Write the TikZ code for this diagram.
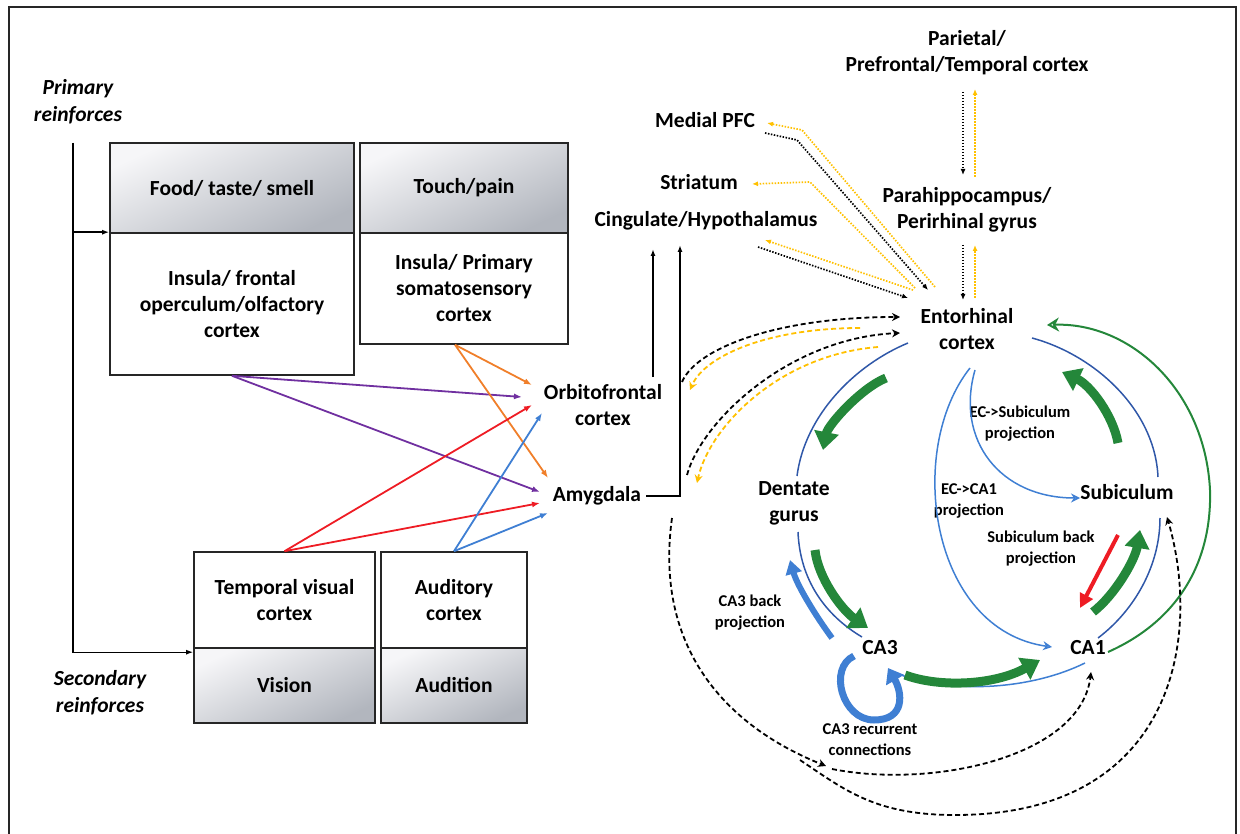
\documentclass[tikz,border=0pt]{standalone}
\usepackage{fontspec}
\setmainfont{Carlito}
\usetikzlibrary{arrows.meta,calc}
\definecolor{cPurple}{HTML}{7030A0}
\definecolor{cOrange}{HTML}{F07F2A}
\definecolor{cRed}{HTML}{EE1C24}
\definecolor{cBlue}{HTML}{3F7FD3}
\definecolor{cRing}{HTML}{2F57A8}
\definecolor{cGold}{HTML}{FFC000}
\definecolor{cGreen}{HTML}{24873A}
\definecolor{hdrLight}{HTML}{F6F6F8}
\definecolor{hdrDark}{HTML}{B2B6BE}
\begin{document}
\begin{tikzpicture}[x=1pt,y=-1pt,
  lbl/.style={font=\fontsize{21.5}{26}\selectfont\bfseries, align=center, inner sep=2pt},
  small/.style={font=\fontsize{16.5}{21}\selectfont\bfseries, align=center, inner sep=1pt},
  side/.style={font=\fontsize{21.5}{27}\selectfont\bfseries\itshape, align=center},
  box/.style={lbl, draw=black!85, line width=1.6pt, inner sep=0pt},
  hdr/.style={box, top color=hdrLight, bottom color=hdrDark, shading angle=25},
  arr/.style={line width=1.4pt, -{Latex[length=7pt,width=5pt]}},
  carr/.style={line width=1.8pt, -{Latex[length=8pt,width=6pt]}},
  dotarr/.style={line width=1.7pt, dash pattern=on 1.5pt off 1.5pt, -{Latex[length=6pt,width=5pt]}},
  dasharr/.style={line width=1.8pt, dash pattern=on 5pt off 3pt, -{Stealth[length=8pt,width=8pt]}},
  ring/.style={cRing, line width=1.5pt},
  proj/.style={cBlue, line width=1.5pt, -{Stealth[length=9pt,width=9pt,open]}},
  fat/.style={line width=9pt, -{Triangle[width=24pt,length=18pt]}},
  medfat/.style={line width=6pt, -{Triangle[width=16pt,length=14pt]}}
]
\useasboundingbox (0,0) rectangle (1240,834);
% outer frame
\draw[line width=2pt, black!85] (9,834) -- (9,7) -- (1236,7) -- (1236,834);

% ---------- sensory boxes ----------
\node[hdr, minimum width=244pt, minimum height=90pt] (food) at (232,188) {Food/ taste/ smell};
\node[box, minimum width=244pt, minimum height=142pt] (foodc) at (232,304) {Insula/ frontal\\operculum/olfactory\\cortex};
\node[hdr, minimum width=208pt, minimum height=90pt] (touch) at (464,188) {Touch/pain};
\node[box, minimum width=208pt, minimum height=111pt] (touchc) at (464,288.5) {Insula/ Primary\\somatosensory\\cortex};
\node[box, minimum width=181pt, minimum height=96pt] (tvc) at (284.5,600) {Temporal visual\\cortex};
\node[hdr, minimum width=181pt, minimum height=75pt] (vis) at (284.5,685.5) {Vision};
\node[box, minimum width=146pt, minimum height=96pt] (aud) at (454,600) {Auditory\\cortex};
\node[hdr, minimum width=146pt, minimum height=75pt] (audn) at (454,685.5) {Audition};

\node[side] (prim) at (78,102) {Primary\\reinforces};
\node[side] (sec) at (100,693) {Secondary\\reinforces};
\coordinate (rtop) at (73,143);
\draw[arr] (rtop) |- (foodc.north west);
\draw[arr] (rtop) |- ([yshift=-5pt]vis.north west);

% ---------- limbic targets ----------
\node[lbl] (ofc) at (603,405) {Orbitofrontal\\cortex};
\node[lbl] (amy) at (597,496) {Amygdala};
\node[lbl] (cing) at (706,221) {Cingulate/Hypothalamus};
\node[lbl] (str) at (699,182) {Striatum};
\node[lbl] (mpfc) at (705,120) {Medial PFC};

\draw[carr, cPurple] (foodc.south) -- ($(ofc)+(-81,-8)$);
\draw[carr, cPurple] (foodc.south) -- ($(amy)+(-57,-4)$);
\draw[carr, cOrange] ([xshift=-9pt]touchc.south) -- ($(ofc)+(-71,-20)$);
\draw[carr, cOrange] ([xshift=-9pt]touchc.south) -- ($(amy)+(-49,-18)$);
\draw[carr, cRed] (tvc.north) -- ($(ofc)+(-71,0)$);
\draw[carr, cRed] (tvc.north) -- ($(amy)+(-57,7)$);
\draw[carr, cBlue] (aud.north) -- ($(ofc)+(-61,8)$);
\draw[carr, cBlue] (aud.north) -- ($(amy)+(-49,17)$);

\draw[arr] ($(ofc)+(50,-28)$) -- ($(cing)+(-53,28)$);
\draw[arr] ([xshift=3pt]amy.east) -| ($(cing)+(-26,24)$);

% ---------- cortical inputs to the entorhinal cortex ----------
\node[lbl] (par) at (967,53) {Parietal/\\Prefrontal/Temporal cortex};
\node[lbl] (para) at (967,210) {Parahippocampus/\\Perirhinal gyrus};
\node[lbl] (ec) at (967,329) {Entorhinal\\cortex};

\draw[dotarr] ($(par)+(-4,39)$) -- ($(para)+(-4,-35)$);
\draw[dotarr, cGold] ($(para)+(8,-33)$) -- ($(par)+(8,36)$);
\draw[dotarr] ($(para)+(-4,35)$) -- ($(ec)+(-4,-29)$);
\draw[dotarr, cGold] ($(ec)+(8,-31)$) -- ($(para)+(8,35)$);

\draw[dotarr] ($(mpfc)+(60,13)$) -- ($(mpfc)+(92,20)$) -- ($(ec)+(-39,-39)$);
\draw[dotarr, cGold] ($(ec)+(-32,-42)$) -- ($(mpfc)+(97,10)$) -- ($(mpfc)+(62,3)$);
\draw[dotarr, cGold] ($(ec)+(-52,-41)$) -- ($(str)+(111,0)$) -- ($(str)+(53,2)$);
\draw[dotarr, cGold] ($(ec)+(-54,-39)$) -- ($(cing)+(59,19)$);
\draw[dotarr] ($(cing)+(52,26)$) -- ($(ec)+(-59,-31)$);

% entorhinal <-> orbitofrontal / amygdala
\draw[dasharr] ($(ofc)+(79,-23)$) .. controls +(15,-35) and +(-120,0) .. ($(ec)+(-67,-12)$);
\draw[dasharr, cGold] ($(ec)+(-107,-1)$) .. controls +(-90,0) and +(15,-35) .. ($(ofc)+(87,-15)$);
\draw[dasharr] ($(amy)+(90,-21)$) .. controls +(15,-55) and +(-110,5) .. ($(ec)+(-67,4)$);
\draw[dasharr, cGold] ($(ec)+(-89,18)$) .. controls +(-100,8) and +(12,-55) .. ($(amy)+(100,-13)$);

% ---------- hippocampal circuit ----------
\node[lbl] (dg) at (794,503) {Dentate\\gurus};
\node[lbl] (sub) at (1127,492) {Subiculum};
\node[lbl] (ca3) at (880,648) {CA3};
\node[lbl] (ca1) at (1088,648) {CA1};
\node[small] (ecsub) at (1020,424) {EC->Subiculum\\projection};
\node[small] (ecca1) at (969,501) {EC->CA1\\projection};
\node[small] (subbp) at (1041,549) {Subiculum back\\projection};
\node[small] (ca3bp) at (750,613) {CA3 back\\projection};
\node[small] (ca3rc) at (870,740) {CA3 recurrent\\connections};

% ring
\draw[ring] ($(ec)+(-59,14)$) .. controls +(-53,22) and +(8,-61) .. ($(dg)+(3,-27)$);
\draw[ring] ($(dg)+(4,29)$) .. controls +(2,48) and +(-37,-22) .. ($(ca3)+(-18,-11)$);
\draw[ring] ($(ca1)+(10,-10)$) .. controls +(37,-28) and +(0,47) .. ($(sub)+(33,26)$);
\draw[ring] ($(sub)+(31,-15)$) .. controls +(-3,-67) and +(63,17) .. ($(ec)+(65,9)$);
\draw[ring, cBlue] ($(ca1)+(-3,15)$) .. controls +(-55,27) and +(57,23) .. ($(ca3)+(13,24)$);

% direct projections
\draw[proj] ($(ec)+(3,39)$) .. controls +(-65,82) and +(-122,-17) .. ($(ca1)+(-36,-1)$);
\draw[proj] ($(ec)+(8,41)$) .. controls +(-20,70) and +(-80,0) .. ($(sub)+(-47,6)$);

% CA1 output back to the entorhinal cortex
\draw[cGreen, line width=2pt, -{Stealth[length=12pt,width=14pt,open]}]
  ($(ca1)+(20,4)$) .. controls +(72,-32) and +(2,70) .. ($(sub)+(83,-2)$)
  .. controls +(-5,-100) and +(83,-3) .. ($(ec)+(80,-4)$);

% trisynaptic loop
\draw[fat, cGreen] ($(ec)+(-81,49)$) .. controls +(-25,10) and +(5,-25) .. ($(dg)+(29,-53)$);
\draw[fat, cGreen] ($(dg)+(21,47)$) .. controls +(3,28) and +(-26,-18) .. ($(ca3)+(-12,-20)$);
\draw[fat, cGreen] ($(ca3)+(25,27)$) .. controls +(35,13) and +(-45,25) .. ($(ca1)+(-48,12)$);
\draw[fat, cGreen] ($(ca1)+(5,-36)$) .. controls +(22,-17) and +(-5,30) .. ($(sub)+(13,38)$);
\draw[fat, cGreen] ($(sub)+(-9,-49)$) .. controls +(-5,-28) and +(28,13) .. ($(ec)+(95,43)$);

\draw[cRed, line width=4pt, -{Triangle[width=14pt,length=14pt]}] ($(sub)+(-9,43)$) -- ($(ca1)+(-8,-40)$);
\draw[medfat, cBlue] ($(ca3)+(-48,-10)$) .. controls +(-17,-23) and +(7,25) .. ($(dg)+(-4,57)$);
\draw[cBlue, line width=7pt, -{Triangle[width=20pt,length=14pt]}]
  ($(ca3)+(-26,8)$) .. controls +(-26,12) and +(-32,0) .. ($(ca3)+(-6,72)$)
  .. controls +(32,0) and +(14,24) .. ($(ca3)+(8,20)$);

% amygdala projections to CA1 and subiculum
\draw[dasharr] ($(amy)+(75,22)$) .. controls +(-18,130) and +(-100,-40) .. ($(ca3rc)+(-44,26)$);
\draw[dasharr] ($(ca3rc)+(-38,29)$) .. controls +(100,20) and +(-10,85) .. ($(ca1)+(3,24)$);
\draw[dasharr] ($(ca3rc)+(-70,20)$) .. controls +(45,30) and +(-80,0) .. ($(ca3rc)+(85,75)$)
  .. controls +(220,0) and +(35,120) .. ($(sub)+(40,25)$);
\end{tikzpicture}
\end{document}
